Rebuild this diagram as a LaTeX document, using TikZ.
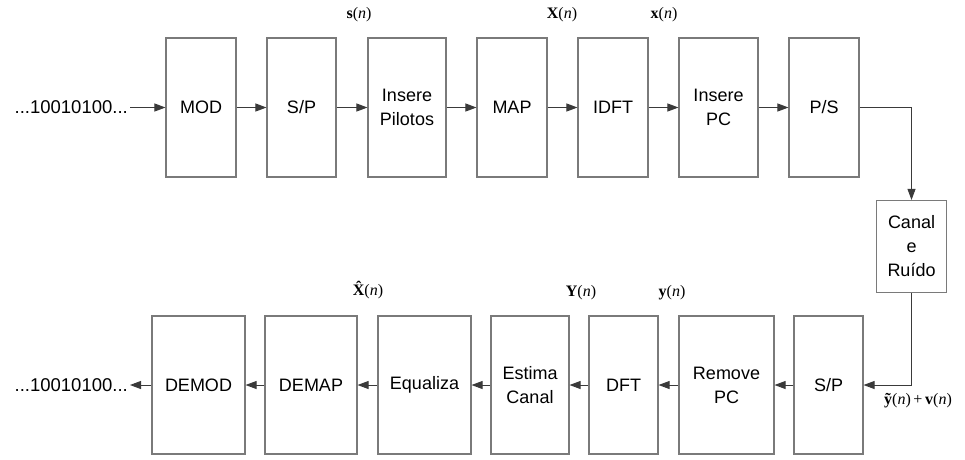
\documentclass[tikz,border=0pt]{standalone}
\usepackage{fontspec}
\setmainfont{Liberation Sans}
\newfontfamily\lblfont{Liberation Serif}
\usetikzlibrary{arrows.meta}
\definecolor{boxline}{HTML}{7A7A7A}
\definecolor{wire}{HTML}{3A3A3A}
% bold X with a circumflex set over it
\newcommand{\hatX}{{\bfseries\accent"02C6 X}}
\begin{document}
\begin{tikzpicture}[x=1pt,y=-1pt,
  blk/.style={draw=boxline,line width=1.1pt,fill=white,align=center,
    minimum height=#1,inner sep=0pt,font=\fontsize{18}{24}\selectfont},
  blk/.default=139pt,
  wd/.style={minimum width=#1},
  flow/.style={draw=wire,line width=0.9pt,-{Triangle[length=11pt,width=8pt]}},
  sig/.style={font=\lblfont\fontsize{16}{18}\selectfont,inner sep=0pt},
  bits/.style={font=\fontsize{18.5}{22}\selectfont,inner sep=2pt,anchor=east}]
\useasboundingbox (0,0) rectangle (965,459);

% transmitter chain
\node[blk,wd=70pt] (mod)  at (201,107.5) {MOD};
\node[blk,wd=69pt] (sp1)  at (301.5,107.5) {S/P};
\node[blk,wd=78pt] (pil)  at (407,107.5) {Insere\\Pilotos};
\node[blk,wd=70pt] (map)  at (512,107.5) {MAP};
\node[blk,wd=70pt] (idft) at (613,107.5) {IDFT};
\node[blk,wd=79pt] (ipc)  at (718.5,107.5) {Insere\\PC};
\node[blk,wd=70pt] (ps)   at (824,107.5) {P/S};

% channel
\node[blk=92pt,wd=70pt] (can) at (911.5,246.5) {Canal\\e\\Ruído};

% receiver chain
\node[blk=138pt,wd=93pt] (demod) at (198.5,385) {DEMOD};
\node[blk=138pt,wd=92pt] (demap) at (311,385) {DEMAP};
\node[blk=138pt,wd=93pt] (eq)    at (424.5,385) {Equaliza};
\node[blk=138pt,wd=78pt] (est)   at (530,385) {Estima\\Canal};
\node[blk=138pt,wd=69pt] (dft)   at (623.5,385) {DFT};
\node[blk=138pt,wd=95pt] (rpc)   at (726.5,385) {Remove\\PC};
\node[blk=138pt,wd=69pt] (sp2)   at (828.5,385) {S/P};

% bit streams
\node[bits] (bin)  at (130,107.5) {...10010100...};
\node[bits] (bout) at (130,385) {...10010100...};

% connectors
\draw[flow] (bin.east) -- (mod.west);
\draw[flow] (mod) -- (sp1);
\draw[flow] (sp1) -- (pil);
\draw[flow] (pil) -- (map);
\draw[flow] (map) -- (idft);
\draw[flow] (idft) -- (ipc);
\draw[flow] (ipc) -- (ps);
\draw[flow] (ps.east) -| (can.north);
\draw[flow] (can.south) |- (sp2.east);
\draw[flow] (sp2) -- (rpc);
\draw[flow] (rpc) -- (dft);
\draw[flow] (dft) -- (est);
\draw[flow] (est) -- (eq);
\draw[flow] (eq) -- (demap);
\draw[flow] (demap) -- (demod);
\draw[flow] (demod.west) -- (bout.east);

% signal labels
\node[sig] (ls)  at (359,15)  {\textbf{s}(\textit{n})};
\node[sig] (lX)  at (562,15)  {\textbf{X}(\textit{n})};
\node[sig] (lx)  at (664,15)  {\textbf{x}(\textit{n})};
\node[sig] (lXh) at (368,290) {\hatX(\textit{n})};
\node[sig] (lY)  at (581,293) {\textbf{Y}(\textit{n})};
\node[sig] (ly)  at (672,293) {\textbf{y}(\textit{n})};
\node[sig] (lyv) at (918,401) {\textbf{\~y}(\textit{n})\,+\,\textbf{v}(\textit{n})};
\end{tikzpicture}
\end{document}
